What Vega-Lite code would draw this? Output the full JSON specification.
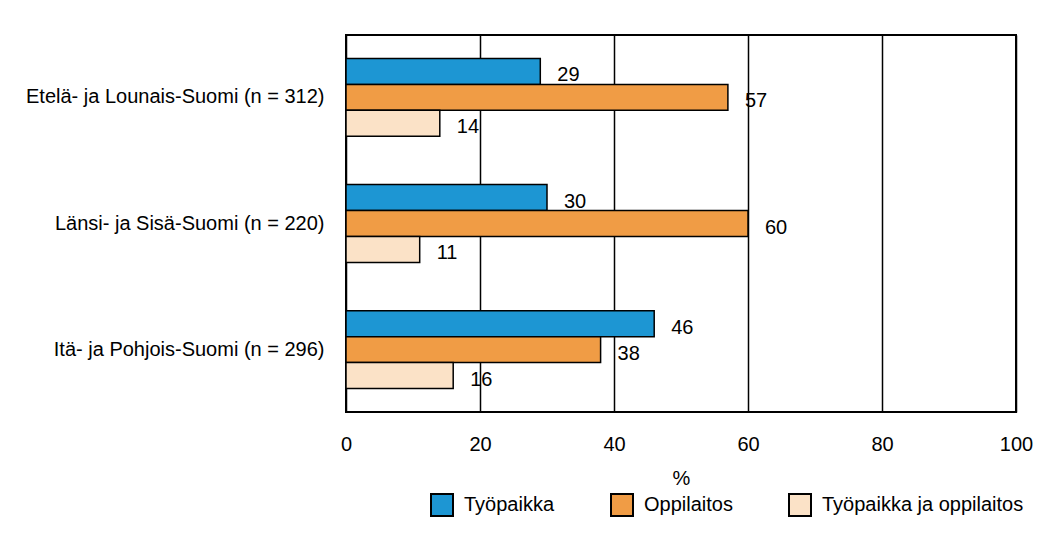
{
  "$schema": "https://vega.github.io/schema/vega-lite/v6.json",
  "autosize": {"type": "none"},
  "padding": {"left": 346, "top": 35, "right": 45, "bottom": 126},
  "width": 670,
  "height": 377,
  "background": "white",
  "config": {
    "font": "Liberation Sans",
    "view": {"stroke": "black", "strokeWidth": 2},
    "axis": {"labelFont": "Liberation Sans", "titleFont": "Liberation Sans", "labelColor": "black", "titleColor": "black"},
    "legend": {"labelFont": "Liberation Sans"}
  },
  "data": {
    "values": [
      {"alue": "Etelä- ja Lounais-Suomi (n = 312)", "paikka": "Työpaikka", "o": 1, "arvo": 29},
      {"alue": "Etelä- ja Lounais-Suomi (n = 312)", "paikka": "Oppilaitos", "o": 2, "arvo": 57},
      {"alue": "Etelä- ja Lounais-Suomi (n = 312)", "paikka": "Työpaikka ja oppilaitos", "o": 3, "arvo": 14},
      {"alue": "Länsi- ja Sisä-Suomi (n = 220)", "paikka": "Työpaikka", "o": 1, "arvo": 30},
      {"alue": "Länsi- ja Sisä-Suomi (n = 220)", "paikka": "Oppilaitos", "o": 2, "arvo": 60},
      {"alue": "Länsi- ja Sisä-Suomi (n = 220)", "paikka": "Työpaikka ja oppilaitos", "o": 3, "arvo": 11},
      {"alue": "Itä- ja Pohjois-Suomi (n = 296)", "paikka": "Työpaikka", "o": 1, "arvo": 46},
      {"alue": "Itä- ja Pohjois-Suomi (n = 296)", "paikka": "Oppilaitos", "o": 2, "arvo": 38},
      {"alue": "Itä- ja Pohjois-Suomi (n = 296)", "paikka": "Työpaikka ja oppilaitos", "o": 3, "arvo": 16}
    ]
  },
  "encoding": {
    "y": {
      "field": "alue", "type": "nominal", "sort": null, "title": null,
      "scale": {"paddingInner": 0.383, "paddingOuter": 0.186},
      "axis": {"ticks": false, "domain": false, "labelPadding": 22, "labelFontSize": 20, "labelLimit": 400}
    },
    "yOffset": {"field": "o", "type": "ordinal", "scale": {"paddingInner": 0, "paddingOuter": 0}},
    "x": {
      "field": "arvo", "type": "quantitative", "title": "%",
      "scale": {"domain": [0, 100], "nice": false},
      "axis": {"values": [0, 20, 40, 60, 80, 100], "ticks": false, "domain": false, "grid": true, "gridColor": "black", "gridWidth": 1.5, "gridOpacity": 1, "labelFlush": false, "labelPadding": 22, "labelFontSize": 20, "titleFontSize": 20, "titleFontWeight": "normal", "titlePadding": 14}
    }
  },
  "layer": [
    {
      "mark": {"type": "bar", "stroke": "black", "strokeWidth": 1.5, "cornerRadius": 0},
      "encoding": {
        "color": {
          "field": "paikka", "type": "nominal", "title": null,
          "sort": ["Työpaikka", "Oppilaitos", "Työpaikka ja oppilaitos"],
          "scale": {"domain": ["Työpaikka", "Oppilaitos", "Työpaikka ja oppilaitos"], "range": ["#1D96D3", "#F09C45", "#FBE2C7"]},
          "legend": {
            "orient": "none", "legendX": 84, "legendY": 458, "direction": "horizontal",
            "symbolType": "square", "symbolSize": 484, "symbolStrokeColor": "black", "symbolStrokeWidth": 2, "symbolOpacity": 1,
            "labelFontSize": 20, "labelColor": "black", "labelOffset": 10, "columnPadding": 52, "padding": 0, "labelLimit": 400
          }
        }
      }
    },
    {
      "mark": {"type": "text", "align": "left", "baseline": "middle", "dx": 17, "dy": 4, "fontSize": 20, "color": "black", "font": "Liberation Sans"},
      "encoding": {"text": {"field": "arvo", "type": "quantitative"}}
    }
  ]
}
